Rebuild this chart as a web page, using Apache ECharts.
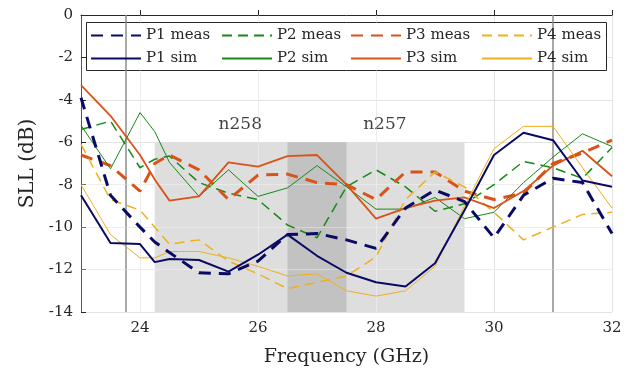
<!DOCTYPE html>
<html lang="en">
<head>
    <meta charset="utf-8">
    <script src="https://cdn.jsdelivr.net/npm/echarts@6.0.0/dist/echarts.min.js"></script>
    <style>
        html, body { margin: 0; padding: 0; background: #fff; }
        #chart { width: 631px; height: 372px; }
    </style>
</head>
<body>
    <div id="chart"></div>
    <script>
        // frequency points (GHz)
        const freq = [23, 23.5, 24, 24.25, 24.5, 25, 25.5, 26, 26.5, 27, 27.5, 28, 28.5, 29, 29.5, 30, 30.5, 31, 31.5, 32];

        // SLL in dB
        const p1Meas = [-3.9, -8.5, -10.0, -10.7, -11.2, -12.15, -12.2, -11.6, -10.35, -10.3, -10.6, -11.0, -9.1, -8.25, -8.8, -10.5, -8.5, -7.7, -7.9, -10.3];
        const p1Sim = [-8.5, -10.75, -10.8, -11.65, -11.5, -11.55, -12.1, -11.3, -10.35, -11.35, -12.15, -12.6, -12.8, -11.7, -9.2, -6.6, -5.55, -5.9, -7.8, -8.1];
        const p2Meas = [-5.4, -5.0, -7.2, -6.8, -6.65, -7.9, -8.4, -8.7, -9.9, -10.5, -8.1, -7.3, -8.1, -9.25, -8.9, -8.0, -6.9, -7.2, -7.7, -6.25];
        const p2Sim = [-5.2, -7.25, -4.6, -5.5, -6.95, -8.55, -7.3, -8.55, -8.15, -7.1, -8.1, -9.15, -9.15, -8.6, -9.6, -9.3, -7.9, -6.7, -5.6, -6.2];
        const p3Meas = [-6.6, -7.1, -8.3, -7.0, -6.6, -7.3, -8.7, -7.55, -7.5, -7.9, -8.0, -8.7, -7.4, -7.4, -8.3, -8.7, -8.4, -7.0, -6.5, -5.9];
        const p3Sim = [-3.3, -4.75, -6.6, -7.75, -8.75, -8.55, -6.95, -7.15, -6.65, -6.6, -8.0, -9.6, -9.1, -8.75, -8.6, -9.1, -8.3, -7.1, -6.4, -7.6];
        const p4Meas = [-6.1, -8.7, -9.2, -10.0, -10.8, -10.6, -11.6, -12.2, -12.9, -12.6, -12.3, -11.4, -8.7, -7.4, -8.1, -9.3, -10.6, -10.0, -9.4, -9.3];
        const p4Sim = [-8.0, -10.35, -11.45, -11.45, -11.15, -11.15, -11.45, -11.85, -12.3, -12.2, -13.0, -13.25, -13.0, -11.85, -9.0, -6.3, -5.25, -5.25, -7.2, -9.1];

        // bands and markers
        const bandN258 = [24.25, 29.5];
        const bandOverlap = [26.5, 27.5];
        const bandTop = -6;
        const edgeLines = [23.75, 31];
        const bandLabels = [{ name: 'n258', x: 25.7, y: -5.15 }, { name: 'n257', x: 28.15, y: -5.15 }];
        const xTicks = [24, 26, 28, 30, 32];
        const yGrid = [-8, -10, -12];

        const navy = '#0a0a66', green = '#168a16', orange = '#d95319', yellow = '#edb120';
        const font = '"DejaVu Serif", "Liberation Serif", serif';
        const ink = '#262626';

        const pairs = arr => arr.map((v, i) => [freq[i], v]);

        function lineSeries(name, arr, color, width, dash, z) {
            return {
                name: name,
                type: 'line',
                data: pairs(arr),
                symbol: 'none',
                showSymbol: false,
                z: z,
                lineStyle: { color: color, width: width, type: dash || 'solid' },
                itemStyle: { color: color },
                emphasis: { disabled: true }
            };
        }

        const series = [
            {
                // shaded bands + vertical markers
                type: 'line',
                data: [],
                silent: true,
                z: 1,
                markArea: {
                    silent: true,
                    data: [
                        [{ coord: [bandN258[0], -14], itemStyle: { color: '#dedede' } }, { coord: [bandN258[1], bandTop] }],
                        [{ coord: [bandOverlap[0], -14], itemStyle: { color: '#c2c2c2' } }, { coord: [bandOverlap[1], bandTop] }]
                    ]
                },
                markLine: {
                    silent: true,
                    symbol: 'none',
                    label: { show: false },
                    lineStyle: { color: '#8c8c8c', width: 1.5, type: 'solid' },
                    data: edgeLines.map(x => ({ xAxis: x }))
                        .concat(xTicks.slice(0, 3).map(x => ({ xAxis: x, lineStyle: { color: 'rgba(255,255,255,0.35)', width: 1 } })))
                        .concat(yGrid.map(y => ({ yAxis: y, lineStyle: { color: 'rgba(255,255,255,0.35)', width: 1 } })))
                }
            },
            {
                type: 'scatter',
                silent: true,
                symbolSize: 0,
                z: 3,
                data: bandLabels.map(d => ({ name: d.name, value: [d.x, d.y] })),
                label: {
                    show: true,
                    formatter: '{b}',
                    position: 'inside',
                    fontFamily: font,
                    fontSize: 17,
                    color: '#111'
                }
            },
            lineSeries('P1 meas', p1Meas, navy, 3, [12, 8], 6),
            lineSeries('P2 meas', p2Meas, green, 1.5, [10, 6], 5),
            lineSeries('P3 meas', p3Meas, orange, 3, [12, 8], 5),
            lineSeries('P4 meas', p4Meas, yellow, 1.5, [10, 6], 5),
            lineSeries('P1 sim', p1Sim, navy, 2, 'solid', 6),
            lineSeries('P2 sim', p2Sim, green, 1, 'solid', 5),
            lineSeries('P3 sim', p3Sim, orange, 1.8, 'solid', 5),
            lineSeries('P4 sim', p4Sim, yellow, 1, 'solid', 5)
        ];

        const legendCols = [
            { left: 90, data: ['P1 meas', 'P1 sim'] },
            { left: 221, data: ['P2 meas', 'P2 sim'] },
            { left: 350, data: ['P3 meas', 'P3 sim'] },
            { left: 481, data: ['P4 meas', 'P4 sim'] }
        ];

        const chart = echarts.init(document.getElementById('chart'), null, { renderer: 'canvas' });
        chart.setOption({
            animation: false,
            backgroundColor: '#fff',
            grid: { left: 81, right: 19, top: 15, bottom: 59, containLabel: false },
            xAxis: {
                type: 'value',
                min: 23,
                max: 32,
                name: 'Frequency (GHz)',
                nameLocation: 'middle',
                nameGap: 36,
                nameTextStyle: { fontFamily: font, fontSize: 19, color: ink },
                axisLine: { show: true, lineStyle: { color: ink, width: 1 } },
                axisTick: { show: true, inside: true, length: 5, customValues: xTicks, lineStyle: { color: ink } },
                axisLabel: { customValues: xTicks, margin: 9, fontFamily: font, fontSize: 15, color: ink },
                splitLine: { show: true, lineStyle: { color: '#e3e3e3', width: 1 } }
            },
            yAxis: {
                type: 'value',
                min: -14,
                max: 0,
                interval: 2,
                name: 'SLL (dB)',
                nameLocation: 'middle',
                nameGap: 42,
                nameTextStyle: { fontFamily: font, fontSize: 20, color: ink },
                axisLine: { show: true, lineStyle: { color: '#555', width: 1 } },
                axisTick: { show: true, inside: true, length: 5, lineStyle: { color: ink } },
                axisLabel: { margin: 8, fontFamily: font, fontSize: 15, color: ink },
                splitLine: { show: true, lineStyle: { color: '#e3e3e3', width: 1 } }
            },
            legend: legendCols.map(c => ({
                orient: 'vertical',
                left: c.left,
                top: 28,
                padding: 0,
                z: 10,
                data: c.data,
                itemWidth: 50,
                itemHeight: 14,
                itemGap: 8,
                selectedMode: false,
                itemStyle: { opacity: 0 },
                textStyle: { fontFamily: font, fontSize: 15, color: ink }
            })),
            graphic: [{
                type: 'rect',
                z: 3,
                silent: true,
                shape: { x: 86.5, y: 22.5, width: 520, height: 48 },
                style: { fill: '#fff', stroke: ink, lineWidth: 1 }
            }],
            series: series
        });
    </script>
</body>
</html>
